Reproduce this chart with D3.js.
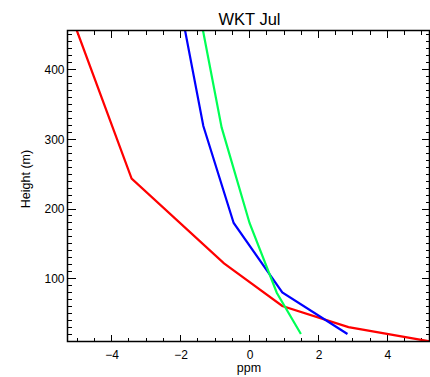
<!DOCTYPE html>
<html><head><meta charset="utf-8">
<script src="https://cdn.jsdelivr.net/npm/d3@7"></script>
<style>body{margin:0;background:#fff}svg{display:block}text{font-family:"Liberation Sans",Arial,sans-serif;fill:#000}</style>
</head><body><svg id="c" width="430" height="377"></svg>
<script>
const title = "WKT Jul";
const xLabel = "ppm";
const yLabel = "Height (m)";
const xDomain = [-5.28, 5.22];
const yDomain = [10, 456];
const xTickValues = [-4, -2, 0, 2, 4];
const yTickValues = [100, 200, 300, 400];
const redX = [5.24, 2.87, 0.95, -0.74, -3.42, -5.01];
const redH = [10, 30.7, 61, 122, 243.5, 456];
const blueX = [2.84, 0.95, -0.46, -1.34, -1.87];
const blueH = [20.7, 80.5, 180, 319, 456];
const greenX = [1.49, 0.79, 0.0, -0.81, -1.35];
const greenH = [20.7, 80, 180, 317, 456];
const seriesColors = ["#ff0000", "#0000ff", "#00ff55"];

const svg = d3.select("#c");
const L = 67.5, R = 429.5, T = 30.5, B = 341.5;
const x = d3.scaleLinear().domain(xDomain).range([L, R]);
const y = d3.scaleLinear().domain(yDomain).range([B, T]);

const minorX = d3.range(-5, 5.01, 0.5);
const minorY = d3.range(10, 456, 10);

function ticks(g, vals, scale, orient, len) {
  vals.forEach(v => {
    const p = scale(v);
    if (orient === "bottom") g.append("line").attr("x1", p).attr("x2", p).attr("y1", B).attr("y2", B - len);
    if (orient === "top") g.append("line").attr("x1", p).attr("x2", p).attr("y1", T).attr("y2", T + len);
    if (orient === "left") g.append("line").attr("y1", p).attr("y2", p).attr("x1", L).attr("x2", L + len);
    if (orient === "right") g.append("line").attr("y1", p).attr("y2", p).attr("x1", R).attr("x2", R - len);
  });
}
const tg = svg.append("g").attr("stroke", "#000").attr("stroke-width", 1).attr("shape-rendering", "crispEdges");
ticks(tg, minorX, x, "bottom", 4); ticks(tg, minorX, x, "top", 4);
ticks(tg, xTickValues, x, "bottom", 7); ticks(tg, xTickValues, x, "top", 7);
ticks(tg, minorY, y, "left", 4); ticks(tg, minorY, y, "right", 4);
ticks(tg, yTickValues, y, "left", 8); ticks(tg, yTickValues, y, "right", 8);

// Lines
svg.append("clipPath").attr("id", "pc").append("rect").attr("x", L).attr("y", T).attr("width", R - L).attr("height", B - T);
const line = d3.line().x(d => x(d[0])).y(d => y(d[1]));
const series = [d3.zip(redX, redH), d3.zip(blueX, blueH), d3.zip(greenX, greenH)];
series.forEach((s, i) => {
  svg.append("path").datum(s).attr("d", line).attr("fill", "none")
    .attr("stroke", seriesColors[i]).attr("stroke-width", 2.2).attr("clip-path", "url(#pc)");
});

// Frame
svg.append("rect").attr("x", L).attr("y", T).attr("width", R - L).attr("height", B - T)
  .attr("fill", "none").attr("stroke", "#000").attr("stroke-width", 1.5);

// Tick labels via d3 axes (lines hidden)
const xa = svg.append("g").attr("transform", `translate(0,${B})`)
  .call(d3.axisBottom(x).tickValues(xTickValues).tickSize(0).tickPadding(9).tickFormat(d3.format("d")));
xa.select(".domain").remove();
xa.selectAll("text").attr("font-size", 12).attr("font-family", "Liberation Sans, Arial, sans-serif").attr("fill", "#000");
const ya = svg.append("g").attr("transform", `translate(${L},0)`)
  .call(d3.axisLeft(y).tickValues(yTickValues).tickSize(0).tickPadding(3));
ya.select(".domain").remove();
ya.selectAll("text").attr("font-size", 12).attr("font-family", "Liberation Sans, Arial, sans-serif").attr("fill", "#000");

svg.append("text").attr("x", 249.5).attr("y", 25).attr("text-anchor", "middle").attr("font-size", 16.5).text(title);
svg.append("text").attr("x", 249).attr("y", 372).attr("text-anchor", "middle").attr("font-size", 12.5).text(xLabel);
svg.append("text").attr("transform", "translate(30,179) rotate(-90)").attr("text-anchor", "middle").attr("font-size", 12.5).text(yLabel);
</script></body></html>
